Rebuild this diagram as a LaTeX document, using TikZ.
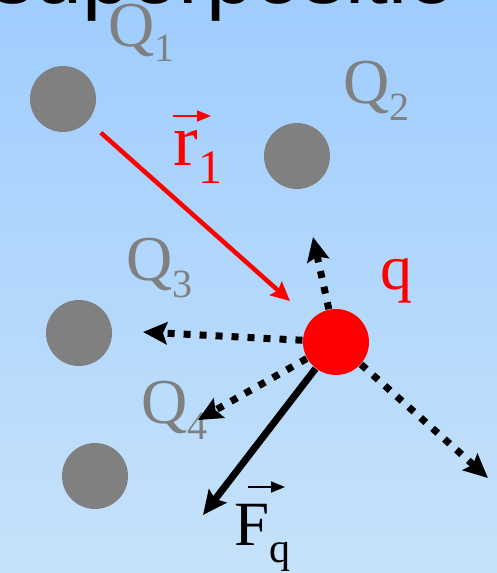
\documentclass[tikz,border=0pt]{standalone}
\usepackage{fontspec}
\setmainfont{Liberation Serif}
\newfontfamily\titlefont{Liberation Sans}
\usetikzlibrary{arrows.meta}
\definecolor{bgtop}{HTML}{9FCDFD}
\definecolor{bgbottom}{HTML}{C6E2FB}
\newcommand{\lsub}[3]{\raisebox{-#1pt}{\fontsize{#2}{#2}\selectfont #3}}
\tikzset{
  every picture/.style={line width=1.2pt},
  charge/.style={circle, fill=#1, minimum size=66pt, inner sep=0pt},
  charge/.default=gray,
  chargetext/.style={text=#1, font=\fontsize{64}{64}\selectfont, anchor=base west, inner sep=0pt},
  chargetext/.default=gray,
  force/.style={-{Stealth[length=24pt, width=22pt, inset=4pt]}, line width=7pt},
  partial/.style={force, dash pattern=on 7pt off 9pt},
  rvec/.style={-{Stealth[length=19pt, width=18pt, inset=3pt]}, draw=red, line width=4.5pt},
  vecsign/.style={-{Triangle[length=14pt, width=11pt]}, line width=1.8pt},
  title/.style={font=\titlefont\fontsize{86}{86}\selectfont, anchor=base west, inner sep=0pt},
}

\begin{document}
\begin{tikzpicture}[x=1pt, y=-1pt]
  \useasboundingbox (0,0) rectangle (497,573);
  \clip (0,0) rectangle (497,573);
  \shade[top color=bgtop, bottom color=bgbottom] (0,0) rectangle (497,573);
  \node[title] (head) at (-9,3) {superpositie};
  % charges
  \node[charge] (Q1) at (63,99) {};
  \node[charge] (Q2) at (297,156) {};
  \node[charge] (Q3) at (79,333) {};
  \node[charge] (Q4) at (95,476) {};
  \node[charge=red] (q) at (336,342) {};
  \node[chargetext] (Q1lbl) at (108,46) {Q\lsub{15}{40}{1}};
  \node[chargetext] (Q2lbl) at (343,103) {Q\lsub{17}{40}{2}};
  \node[chargetext] (Q3lbl) at (126,280) {Q\lsub{17}{40}{3}};
  \node[chargetext] (Q4lbl) at (141,423) {Q\lsub{16}{40}{4}};
  \node[chargetext=red] (qlbl) at (380,289) {q};
  % distance vector
  \draw[rvec, shorten <=17pt, shorten >=28pt] (Q1) -- (q);
  \node[chargetext=red, font=\fontsize{74}{74}\selectfont] (r1lbl) at (173,165) {r\lsub{18}{48}{1}};
  \draw[vecsign, red] ([yshift=49pt]r1lbl.base west) -- ++(38,0);
  % partial forces
  \coordinate (tipup) at (313,237);
  \coordinate (tipleft) at (143,332);
  \coordinate (tipdown) at (198,420);
  \coordinate (tipright) at (488,478);
  \coordinate (tipF) at (203,515);
  \foreach \t in {tipup, tipleft, tipdown, tipright}
    \draw[partial] (q) -- (\t);
  \draw[force] (q) -- (tipF);
  \node[chargetext=black, font=\fontsize{63}{63}\selectfont] (Flbl) at (234,545) {F\lsub{17}{42}{q}};
  \draw[vecsign] ([xshift=14pt, yshift=58pt]Flbl.base west) -- ++(37,0);
\end{tikzpicture}
\end{document}
